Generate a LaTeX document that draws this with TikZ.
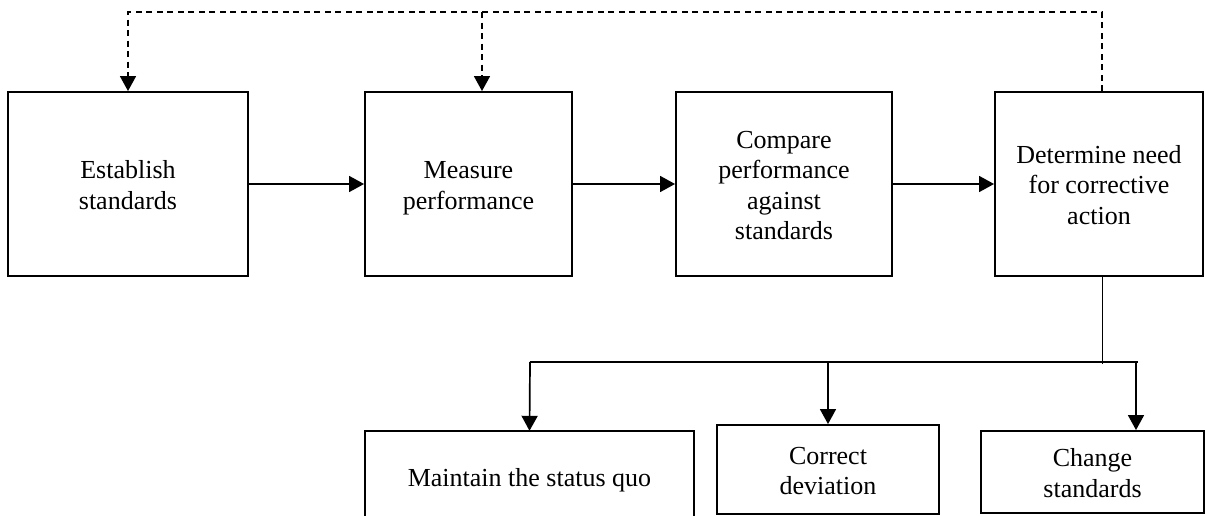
\documentclass[tikz,border=0pt]{standalone}
\usepackage{fontspec}
\setmainfont{Liberation Serif}
\usetikzlibrary{arrows.meta}
% uniform first- and last-line struts so every label sits at the same height
\newcommand\topstrut{\rule{0pt}{29pt}}
\begin{document}
\begin{tikzpicture}[x=1pt,y=-1pt,
  txt/.style={align=center,inner sep=0pt,font=\fontsize{26}{30.5}\selectfont},
  box/.style={txt,draw,line width=1.9pt},
  tip/.style={-{Triangle[length=15pt,width=16pt]}},
  flow/.style={line width=1.7pt,tip},
  fb/.style={line width=1.7pt,dash pattern=on 6pt off 4.5pt},
  fbarrow/.style={fb,tip},
]
\useasboundingbox (0,0) rectangle (1205,516);

% control steps
\node[box,minimum width=240pt,minimum height=184pt] (b1) at (128,184) {\topstrut Establish\\standards\strut};
\node[box,minimum width=207pt,minimum height=184pt] (b2) at (468.5,184) {\topstrut Measure\\performance\strut};
\node[box,minimum width=216pt,minimum height=184pt] (b3) at (784,184) {\topstrut Compare\\performance\\against\\standards\strut};
\node[box,minimum width=208pt,minimum height=184pt] (b4) at (1099,184) {\topstrut Determine need\\for corrective\\action\strut};

\draw[flow] (b1) -- (b2);
\draw[flow] (b2) -- (b3);
\draw[flow] (b3) -- (b4);

% feedback loop
\draw[fbarrow] ([xshift=3pt]b4.north) -- ++(0,-79) coordinate (top) -| (b1.north);
\draw[fbarrow] ([xshift=13.5pt]b2.north |- top) -- ([xshift=13.5pt]b2.north);

% possible actions
\node[txt,minimum width=329pt,minimum height=92pt] (oa) at (529.5,477) {\topstrut Maintain the status quo\strut};
\coordinate (pagebot) at (0,516);
\draw[line width=1.9pt] (oa.west |- pagebot) |- (oa.north east) -- (oa.east |- pagebot);
\node[box,minimum width=222pt,minimum height=89pt] (ob) at (828,469.5) {\topstrut Correct\\deviation\strut};
\node[box,minimum width=223pt,minimum height=82pt] (oc) at (1092.5,472) {\topstrut Change\\standards\strut};

\draw[line width=1pt] ([xshift=3pt]b4.south) -- ++(0,87) coordinate (j);
\coordinate (barL) at (530,362);
\coordinate (barR) at (1138,362);
\draw[line width=2.3pt] (barL) -- (barR);
\draw[flow] (barL) -- (oa.north);
\draw[flow] (ob.north |- barL) -- (ob.north);
\draw[flow] ([xshift=-2pt]barR) -- ([xshift=-2pt]barR |- oc.north);
\end{tikzpicture}
\end{document}
